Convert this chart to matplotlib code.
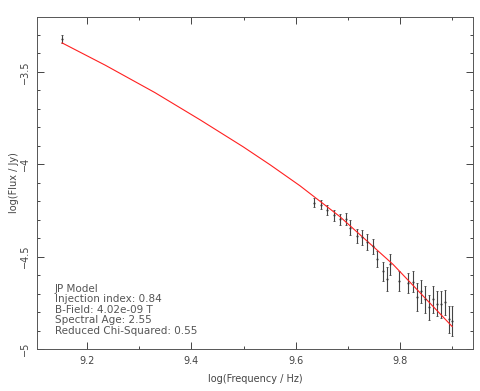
import numpy as np
import matplotlib
matplotlib.use("Agg")
import matplotlib.pyplot as plt
from matplotlib.ticker import MultipleLocator

# observed points (log freq, log flux, error)
freq = [9.152, 9.636, 9.649, 9.661, 9.673, 9.685, 9.696, 9.705, 9.717, 9.727,
        9.737, 9.748, 9.756, 9.768, 9.776, 9.781, 9.799, 9.816, 9.825, 9.833,
        9.841, 9.848, 9.856, 9.864, 9.871, 9.879, 9.886, 9.893, 9.899]
flux = [-3.323, -4.208, -4.219, -4.248, -4.277, -4.297, -4.297, -4.344, -4.388, -4.395,
        -4.419, -4.444, -4.512, -4.580, -4.621, -4.541, -4.634, -4.642, -4.636, -4.719,
        -4.688, -4.732, -4.773, -4.732, -4.755, -4.759, -4.746, -4.839, -4.846]
err = [0.022, 0.025, 0.023, 0.029, 0.032, 0.030, 0.034, 0.041, 0.039, 0.041,
       0.043, 0.040, 0.044, 0.051, 0.064, 0.057, 0.054, 0.054, 0.057, 0.076,
       0.063, 0.072, 0.068, 0.072, 0.068, 0.072, 0.068, 0.074, 0.081]

# JP model curve
model_x = [9.152, 9.235, 9.330, 9.417, 9.499, 9.551, 9.608, 9.685, 9.787, 9.900]
model_y = [-3.343, -3.464, -3.612, -3.760, -3.905, -4.003, -4.116, -4.284, -4.543, -4.878]

info = ["JP Model", "Injection index: 0.84", "B-Field: 4.02e-09 T",
        "Spectral Age: 2.55", "Reduced Chi-Squared: 0.55"]

fig = plt.figure(figsize=(4.81, 3.91), dpi=100)
ax = fig.add_axes([0.0769, 0.1074, 0.9065, 0.8491])

ax.errorbar(freq, flux, yerr=err, fmt='.', ms=1.0, color='#333333',
            ecolor='#444444', elinewidth=0.8, capsize=1, capthick=0.6)
ax.plot(model_x, model_y, color='#ff2020', lw=0.8)

ax.set_xlim(9.104, 9.940)
ax.set_ylim(-4.997, -3.203)

ax.xaxis.set_major_locator(MultipleLocator(0.2))
ax.xaxis.set_minor_locator(MultipleLocator(0.1))
ax.yaxis.set_minor_locator(MultipleLocator(0.1))
ax.set_yticks([-5, -4.5, -4, -3.5])
ax.set_yticklabels(["\u22125", "\u22124.5", "\u22124", "\u22123.5"], rotation=90, va='center')

ax.tick_params(which='both', direction='in', top=True, right=True,
               color='#444444', labelcolor='#444444', labelsize=7, width=0.7)
ax.tick_params(which='major', length=5, pad=5)
ax.tick_params(which='minor', length=2.5)
for s in ax.spines.values():
    s.set_color('#555555')
    s.set_linewidth(0.7)

ax.set_xlabel("log(Frequency / Hz)", fontsize=7, color='#444444')
ax.xaxis.set_label_coords(0.5, -0.075)
ax.set_ylabel("log(Flux / Jy)", fontsize=7, color='#444444')
ax.yaxis.set_label_coords(-0.041, 0.5)

for i, t in enumerate(info):
    ax.text(0.041, 0.181 - i * 0.0316, t, transform=ax.transAxes,
            fontsize=7.5, color='#555555', va='center')

fig.savefig("out.png", dpi=100)
